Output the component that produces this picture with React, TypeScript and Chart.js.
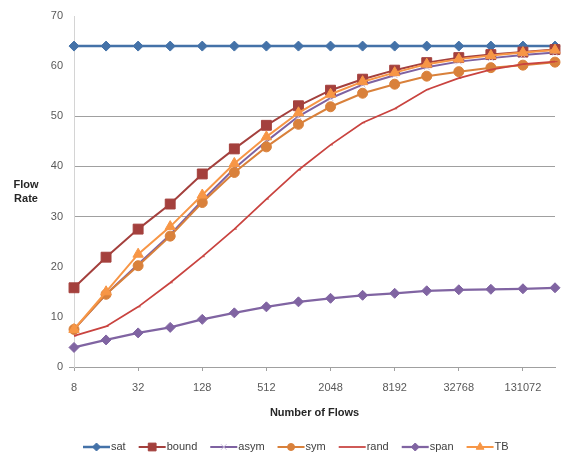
import { useEffect, useRef } from 'react';
import { Chart, registerables } from 'chart.js';
import { drawPoint } from 'chart.js/helpers';
Chart.register(...registerables);

const categories = ['8', '16', '32', '64', '128', '256', '512', '1024', '2048', '4096', '8192', '16384', '32768', '65536', '131072', '262144'];
const sat = [64, 64, 64, 64, 64, 64, 64, 64, 64, 64, 64, 64, 64, 64, 64, 64];
const bound = [15.8, 21.9, 27.5, 32.5, 38.5, 43.5, 48.2, 52.1, 55.2, 57.4, 59.2, 60.7, 61.7, 62.3, 62.8, 63.3];
const asym = [7.5, 14.5, 20.5, 26.4, 33.2, 39.6, 45.0, 50.0, 53.6, 56.3, 58.2, 59.8, 60.9, 61.6, 62.2, 62.7];
const sym = [7.5, 14.5, 20.2, 26.1, 32.8, 38.8, 43.9, 48.4, 51.9, 54.6, 56.4, 58.0, 58.9, 59.7, 60.2, 60.8];
const rand = [6.2, 8.1, 12.0, 16.8, 22.0, 27.5, 33.5, 39.3, 44.3, 48.7, 51.5, 55.3, 57.6, 59.3, 60.4, 60.9];
const span = [3.9, 5.4, 6.8, 7.9, 9.5, 10.8, 12.0, 13.0, 13.7, 14.3, 14.7, 15.2, 15.4, 15.5, 15.6, 15.8];
const tb = [7.5, 15.0, 22.5, 28.0, 34.3, 40.6, 45.9, 50.7, 54.4, 56.9, 58.7, 60.4, 61.4, 62.1, 62.7, 63.2];
const gridValues = [30, 40, 50];

const FONT = '"Liberation Sans", Arial, sans-serif';

const seriesDefs = [
  { label: 'sat', data: sat, color: '#4472A8', width: 2.5, style: 'rectRot', radius: 5, legendRadius: 4, pointColor: '#4472A8' },
  { label: 'bound', data: bound, color: '#A4403D', width: 2, style: 'rect', radius: 7, legendRadius: 5.5, pointColor: '#A4403D' },
  { label: 'asym', data: asym, color: '#7E62A1', width: 2, style: 'crossRot', radius: 4, legendRadius: 4, pointColor: '#C9BCDC' },
  { label: 'sym', data: sym, color: '#D9813B', width: 2, style: 'circle', radius: 5, legendRadius: 3.5, pointColor: '#D9813B' },
  { label: 'rand', data: rand, color: '#C9433F', width: 1.75, style: 'dash', radius: 2.5, legendRadius: 0, pointColor: '#C9433F' },
  { label: 'span', data: span, color: '#8064A2', width: 2.25, style: 'rectRot', radius: 5, legendRadius: 4, pointColor: '#8064A2' },
  { label: 'TB', data: tb, color: '#F79646', width: 2, style: 'triangle', radius: 6, legendRadius: 4.5, pointColor: '#F79646' },
];

const extrasPlugin = {
  id: 'extras',
  afterDraw(chart: any) {
    const ctx = chart.ctx;
    ctx.save();
    // y-axis title (horizontal, two lines)
    ctx.font = 'bold 11px ' + FONT;
    ctx.fillStyle = '#262626';
    ctx.textAlign = 'center';
    ctx.textBaseline = 'middle';
    ctx.fillText('Flow', 26, 185);
    ctx.fillText('Rate', 26, 199);

    // legend
    ctx.font = '11px ' + FONT;
    const symW = 27;
    const gapText = 1;
    const gapItem = 13;
    const ds = chart.data.datasets;
    const widths = ds.map((d: any) => symW + gapText + ctx.measureText(d.label).width);
    let x = 83;
    const y = 447;
    ds.forEach((d: any, i: number) => {
      const def = seriesDefs[i];
      ctx.strokeStyle = d.borderColor;
      ctx.lineWidth = d.borderWidth;
      ctx.beginPath();
      ctx.moveTo(x, y);
      ctx.lineTo(x + symW, y);
      ctx.stroke();
      if (def.legendRadius > 0) {
        ctx.fillStyle = d.pointBackgroundColor;
        ctx.strokeStyle = d.pointBorderColor;
        ctx.lineWidth = 1;
        drawPoint(ctx, { pointStyle: d.pointStyle, radius: def.legendRadius, rotation: 0, borderWidth: 1 } as any, x + symW / 2, y);
      }
      ctx.fillStyle = '#404040';
      ctx.textAlign = 'left';
      ctx.textBaseline = 'middle';
      ctx.fillText(d.label, x + symW + gapText, y);
      x += widths[i] + gapItem;
    });
    ctx.restore();
  },
};

export default function App() {
  const ref = useRef<HTMLCanvasElement | null>(null);
  useEffect(() => {
    document.body.style.margin = '0';
    if (!ref.current) return;
    const chart = new Chart(ref.current, {
      type: 'line',
      data: {
        labels: categories,
        datasets: seriesDefs.map((s, i) => ({
          label: s.label,
          data: s.data,
          borderColor: s.color,
          backgroundColor: s.color,
          borderWidth: s.width,
          pointStyle: s.style as any,
          pointRadius: s.radius,
          pointBackgroundColor: s.pointColor,
          pointBorderColor: s.pointColor,
          pointBorderWidth: 1,
          tension: 0,
          fill: false,
          order: seriesDefs.length - 1 - i,
        })),
      },
      options: {
        responsive: false,
        animation: false,
        devicePixelRatio: 1,
        layout: { padding: { left: 0, right: 6, top: 16, bottom: 35 } },
        plugins: {
          legend: { display: false },
          tooltip: { enabled: false },
          title: { display: false },
        },
        scales: {
          x: {
            type: 'category',
            offset: false,
            grid: {
              drawOnChartArea: false,
              drawTicks: true,
              tickLength: 4,
              color: (c: any) => (c.index % 2 === 0 ? '#A0A0A0' : 'rgba(0,0,0,0)'),
              tickColor: (c: any) => (c.index % 2 === 0 ? '#A0A0A0' : 'rgba(0,0,0,0)'),
            },
            border: { display: true, color: '#A0A0A0', width: 1 },
            ticks: {
              autoSkip: false,
              maxRotation: 0,
              minRotation: 0,
              padding: 10,
              color: '#595959',
              font: { family: FONT, size: 11 },
              callback: (_v: any, i: number) => (i % 2 === 0 ? categories[i] : ''),
            },
            title: {
              display: true,
              text: 'Number of Flows',
              color: '#262626',
              font: { family: FONT, size: 11, weight: 'bold' },
              padding: { top: 4, bottom: 0 },
            },
            afterFit: (s: any) => {
              s.height = 53;
              s.paddingLeft = 0;
              s.paddingRight = 0;
            },
          },
          y: {
            min: 0,
            max: 70,
            ticks: {
              stepSize: 10,
              padding: 6,
              color: '#595959',
              font: { family: FONT, size: 11 },
            },
            grid: {
              drawTicks: true,
              tickLength: 5,
              color: (c: any) => (gridValues.includes(c.tick.value) ? '#A0A0A0' : 'rgba(0,0,0,0)'),
              tickColor: (c: any) => (c.tick.value === 0 ? '#A0A0A0' : 'rgba(0,0,0,0)'),
            },
            border: { display: true, color: '#D4D4D4', width: 1 },
            afterFit: (s: any) => {
              s.width = 74;
            },
          },
        },
      },
      plugins: [extrasPlugin],
    });
    return () => chart.destroy();
  }, []);
  return (
    <div style={{ width: 563, height: 455 }}>
      <canvas ref={ref} width={563} height={455} style={{ display: 'block' }} />
    </div>
  );
}
